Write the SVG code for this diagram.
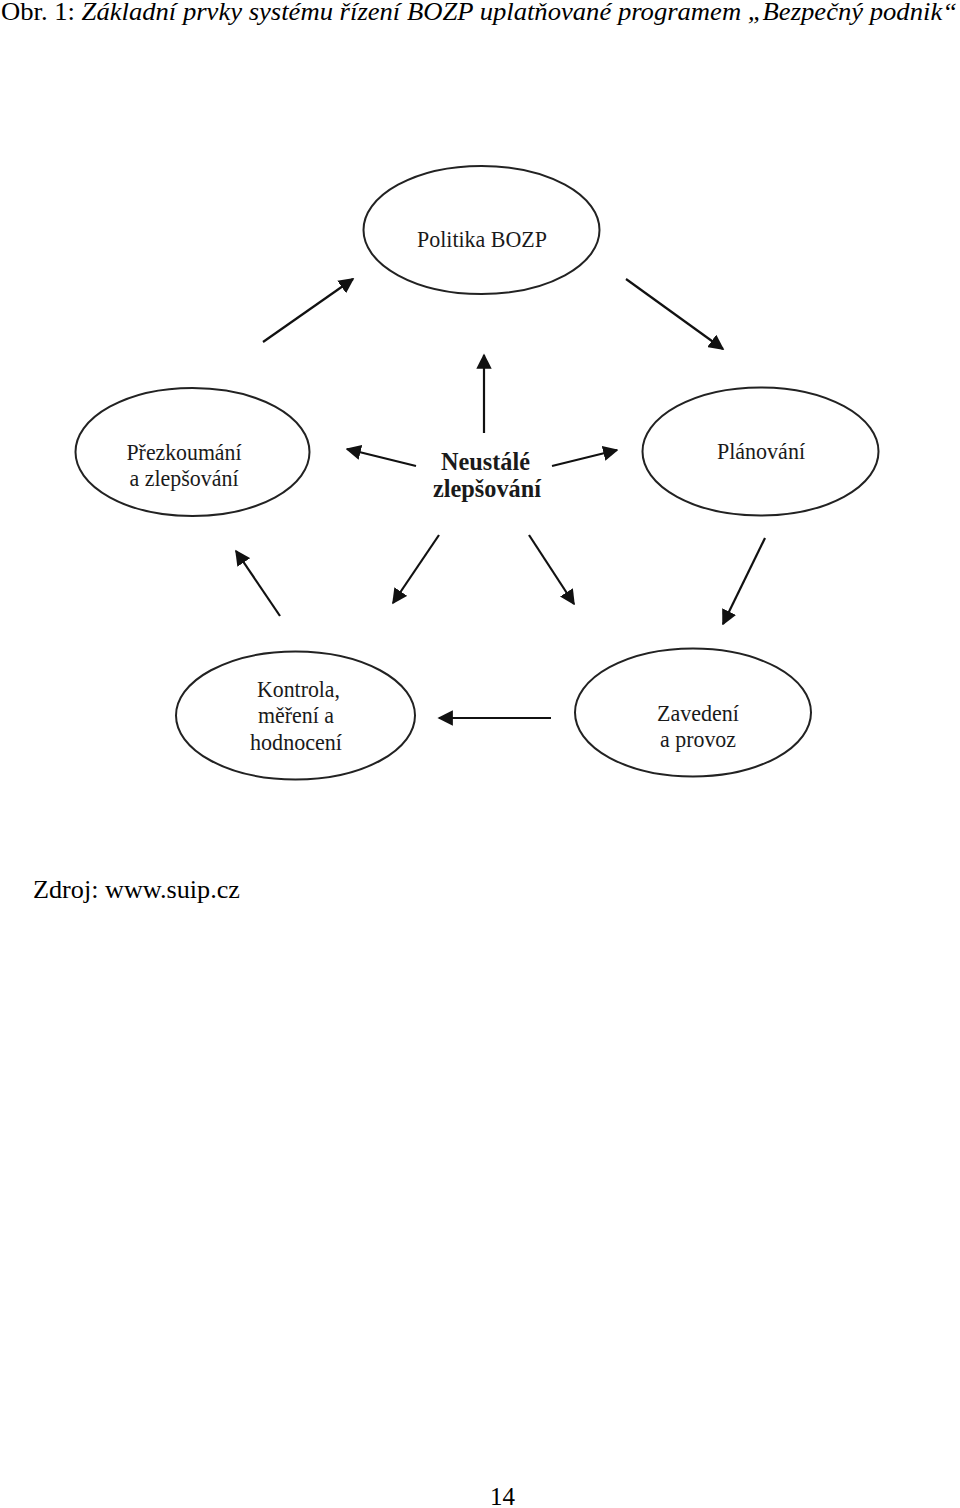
<svg xmlns="http://www.w3.org/2000/svg" width="960" height="1508" viewBox="0 0 960 1508">
<style>
.n{fill:#fff;stroke:#222;stroke-width:2}
.t{font-family:"Liberation Serif",serif;font-size:24px;fill:#1a1a1a;text-anchor:middle}
.b{font-weight:bold;font-size:25px}
.c line{stroke:#111;stroke-width:2.2;marker-end:url(#ah)}
.p{font-family:"Liberation Serif",serif;font-size:25px;fill:#000}
</style>
<defs>
<marker id="ah" viewBox="0 0 10 10" refX="9" refY="5" markerWidth="7" markerHeight="7" orient="auto" markerUnits="strokeWidth">
<path d="M0,0 L10,5 L0,10 z" fill="#111"/>
</marker>
</defs>
<rect width="960" height="1508" fill="#fff"/>
<text class="p" x="1" y="20" font-size="26" textLength="956" lengthAdjust="spacingAndGlyphs">Obr. 1: <tspan font-style="italic">Základní prvky systému řízení BOZP uplatňované programem „Bezpečný podnik“</tspan></text>
<g id="politika"><ellipse class="n" cx="481.5" cy="230" rx="118" ry="64"/><text class="t" x="482" y="247" textLength="130" lengthAdjust="spacingAndGlyphs">Politika BOZP</text></g>
<g id="prezkoumani"><ellipse class="n" cx="192.5" cy="452" rx="117" ry="64"/><text class="t" x="184" y="460" textLength="115" lengthAdjust="spacingAndGlyphs">Přezkoumání</text><text class="t" x="184" y="486" textLength="109" lengthAdjust="spacingAndGlyphs">a zlepšování</text></g>
<g id="planovani"><ellipse class="n" cx="760.5" cy="451.5" rx="118" ry="64"/><text class="t" x="761" y="459" textLength="88" lengthAdjust="spacingAndGlyphs">Plánování</text></g>
<g id="neustale"><text class="t b" x="485.5" y="470" textLength="89" lengthAdjust="spacingAndGlyphs">Neustálé</text><text class="t b" x="487" y="497" textLength="108" lengthAdjust="spacingAndGlyphs">zlepšování</text></g>
<g id="kontrola"><ellipse class="n" cx="295.5" cy="715.5" rx="119.5" ry="64"/><text class="t" x="298.5" y="697" textLength="83" lengthAdjust="spacingAndGlyphs">Kontrola,</text><text class="t" x="296" y="723" textLength="76" lengthAdjust="spacingAndGlyphs">měření a</text><text class="t" x="296" y="750" textLength="92" lengthAdjust="spacingAndGlyphs">hodnocení</text></g>
<g id="zavedeni"><ellipse class="n" cx="693" cy="712.5" rx="118" ry="64"/><text class="t" x="698" y="721" textLength="82" lengthAdjust="spacingAndGlyphs">Zavedení</text><text class="t" x="698" y="747" textLength="76" lengthAdjust="spacingAndGlyphs">a provoz</text></g>
<g id="connectors" class="c">
<line x1="263" y1="342" x2="353" y2="279"/>
<line x1="626" y1="279" x2="723" y2="349"/>
<line x1="484" y1="433" x2="484" y2="355"/>
<line x1="416" y1="466" x2="347" y2="449"/>
<line x1="552" y1="466" x2="617" y2="450"/>
<line x1="439" y1="535" x2="393" y2="603"/>
<line x1="529" y1="535" x2="574" y2="604"/>
<line x1="765" y1="538" x2="723" y2="624"/>
<line x1="551" y1="718" x2="439" y2="718"/>
<line x1="280" y1="616" x2="236" y2="551"/>
</g>
<text class="p" x="33" y="898" textLength="207" lengthAdjust="spacingAndGlyphs">Zdroj: www.suip.cz</text>
<text class="p" x="490" y="1505" textLength="25" lengthAdjust="spacingAndGlyphs">14</text>
</svg>
